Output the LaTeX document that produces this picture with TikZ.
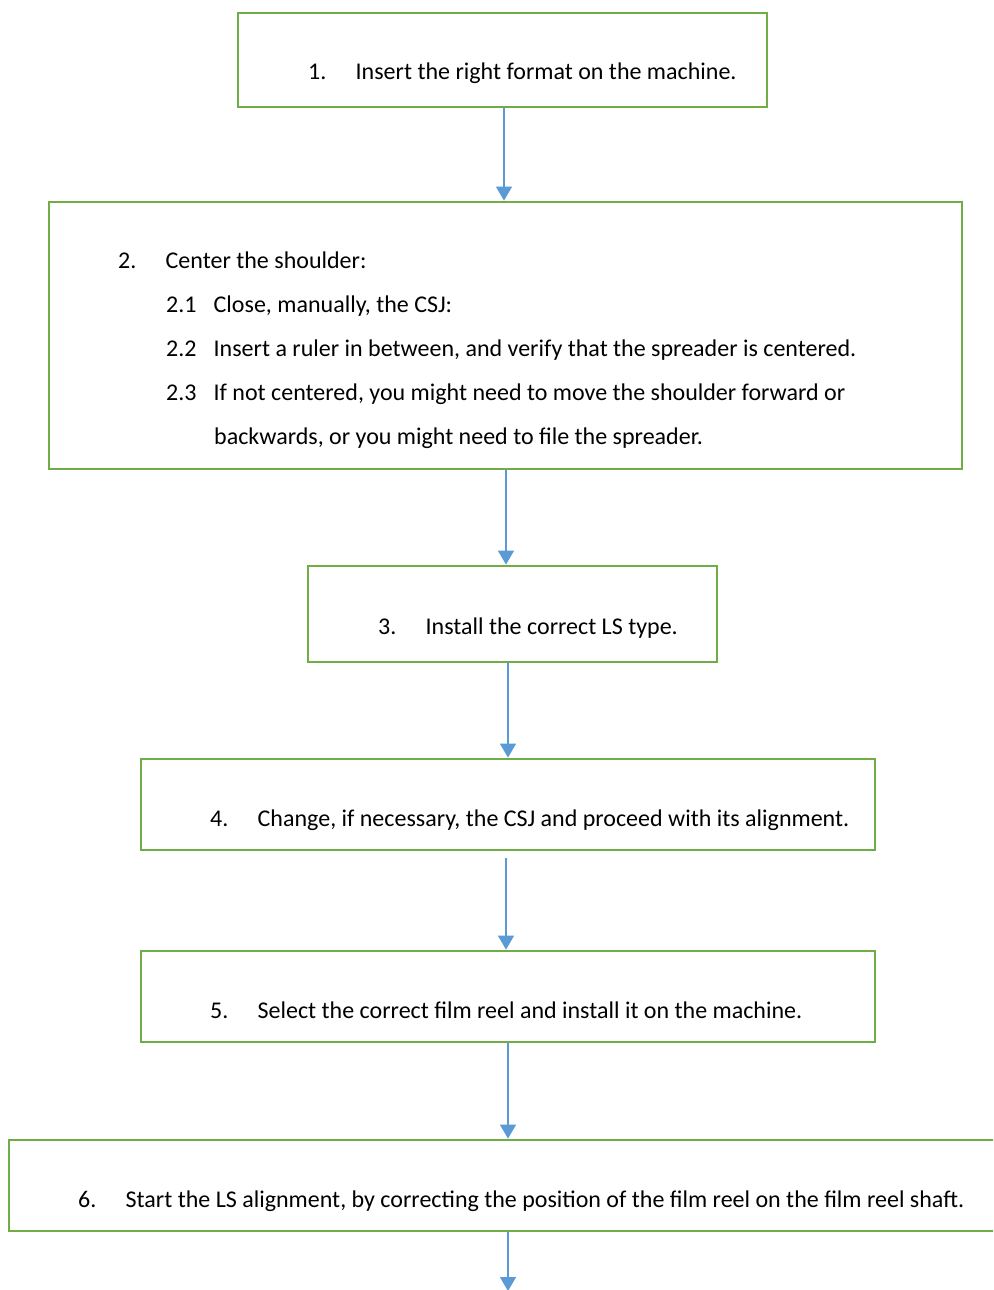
\documentclass[tikz,border=0pt]{standalone}
\usepackage{fontspec}
\setmainfont{Carlito}
\usetikzlibrary{arrows.meta}
\definecolor{boxgreen}{HTML}{70AD47}
\definecolor{arrowblue}{HTML}{5B9BD5}
\definecolor{ink}{HTML}{000000}
\begin{document}
\begin{tikzpicture}[x=1pt,y=-1pt,
  stepbox/.style={draw=boxgreen, line width=2.8pt, inner sep=0pt, fill=white},
  txt/.style={anchor=base west, inner sep=0pt, text=ink, font=\fontsize{24}{28}\selectfont},
  flow/.style={draw=arrowblue, line width=1.4pt, -{Triangle[width=16pt,length=14pt]}}
]
\newcommand{\numlabel}[1]{\makebox[47.5pt][l]{#1}}
\useasboundingbox (0,0) rectangle (993,1290);
\clip (0,0) rectangle (993,1290);
\fill[white] (0,0) rectangle (993,1290);

% step boxes
\node[stepbox, minimum width=529pt, minimum height=94pt]  (b1) at (502.5,60)   {};
\node[stepbox, minimum width=913pt, minimum height=267pt] (b2) at (505.5,335.5) {};
\node[stepbox, minimum width=409pt, minimum height=96pt]  (b3) at (512.5,614)  {};
\node[stepbox, minimum width=734pt, minimum height=91pt]  (b4) at (508,804.5)  {};
\node[stepbox, minimum width=734pt, minimum height=91pt]  (b5) at (508,996.5)  {};
\node[stepbox, minimum width=1000pt, minimum height=91pt] (b6) at (509,1185.5) {};

% step texts
\node[txt] (t1)  at (308,79)  {\numlabel{1.}Insert the right format on the machine.};
\node[txt] (t2)  at (118,268) {\numlabel{2.}Center the shoulder:};
\node[txt] (t21) at (166,312) {\numlabel{2.1}Close, manually, the CSJ:};
\node[txt] (t22) at (166,356) {\numlabel{2.2}Insert a ruler in between, and verify that the spreader is centered.};
\node[txt] (t23) at (166,400) {\numlabel{2.3}If not centered, you might need to move the shoulder forward or};
\node[txt] (t24) at (214,444) {backwards, or you might need to file the spreader.};
\node[txt] (t3)  at (378,634) {\numlabel{3.}Install the correct LS type.};
\node[txt] (t4)  at (210,826) {\numlabel{4.}Change, if necessary, the CSJ and proceed with its alignment.};
\node[txt] (t5)  at (210,1018) {\numlabel{5.}Select the correct film reel and install it on the machine.};
\node[txt] (t6)  at (78,1207) {\numlabel{6.}Start the LS alignment, by correcting the position of the film reel on the film reel shaft.};

% connectors
\coordinate (tail) at (508,1291);
\draw[flow] (504,0 |- b1.south) -- (504,0 |- b2.north);
\draw[flow] (506,0 |- b2.south) -- (506,0 |- b3.north);
\draw[flow] (508,0 |- b3.south) -- (508,0 |- b4.north);
\draw[flow, shorten <=7pt] (506,0 |- b4.south) -- (506,0 |- b5.north);
\draw[flow] (508,0 |- b5.south) -- (508,0 |- b6.north);
\draw[flow] (508,0 |- b6.south) -- (tail);
\end{tikzpicture}
\end{document}
